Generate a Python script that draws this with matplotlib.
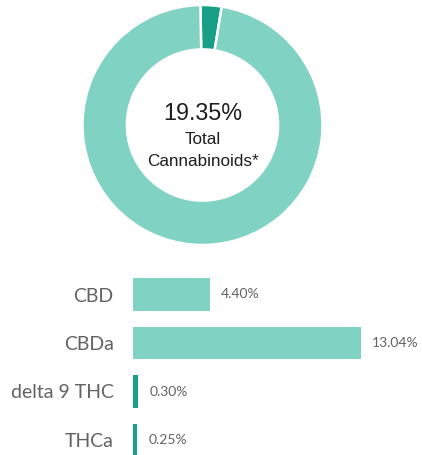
"""Cannabinoid profile - donut of total plus per-compound bars"""

import matplotlib
matplotlib.use("Agg")
import matplotlib.pyplot as plt

LIGHT = '#80d2c2'
DARK = '#18a087'
GRAY = '#626262'

# donut: THC share vs. the rest of the total
donut_labels = ['THC', 'CBD']
donut_values = [0.55, 18.80]
donut_colors = [DARK, LIGHT]
total_text = '19.35%'

# bar section
compounds = ['CBD', 'CBDa', 'delta 9 THC', 'THCa']
percents = [4.40, 13.04, 0.30, 0.25]
bar_colors = [LIGHT, LIGHT, DARK, DARK]

W, H = 422, 455
fig = plt.figure(figsize=(W / 100, H / 100), dpi=100)

# 上半部分：环形图
ax1 = fig.add_axes([(202.5 - 120) / W, 1 - 245 / H, 240 / W, 240 / H])
ax1.pie(donut_values, colors=donut_colors, startangle=91, counterclock=False,
        radius=1.0, wedgeprops=dict(width=0.37, edgecolor='white', linewidth=1.8))
ax1.set_xlim(-1, 1)
ax1.set_ylim(-1, 1)
ax1.axis('off')

ax1.text(0, 0.1, total_text, ha='center', va='center', fontsize=16.8,
         family='Liberation Sans', color='#1e1e1e')
ax1.text(0, -0.12, 'Total', ha='center', va='center', fontsize=12.3,
         family='Liberation Sans', color='#1e1e1e')
ax1.text(0, -0.30, 'Cannabinoids*', ha='center', va='center', fontsize=12.3,
         family='Liberation Sans', color='#1e1e1e')

# 下半部分：横向条形图
px_per_unit = (361 - 133) / 13.04
pitch = 48.5
ax2 = fig.add_axes([133 / W, 0, (W - 133) / W, (H - 270) / H])
ypos = list(range(len(compounds)))
ax2.barh(ypos, percents, height=0.67, color=bar_colors)
ax2.set_xlim(0, (W - 133) / px_per_unit)
ax2.set_ylim((455 - 294.5) / pitch, (270 - 294.5) / pitch)

ax2.set_yticks(ypos)
ax2.set_yticklabels(compounds, fontsize=14, family='Lato', color=GRAY)
ax2.tick_params(axis='y', length=0, pad=14)
ax2.set_xticks([])
for s in ax2.spines.values():
    s.set_visible(False)

for y, v in zip(ypos, percents):
    ax2.annotate(f'{v:.2f}%', xy=(v, y), xytext=(8, 0), textcoords='offset points',
                 ha='left', va='center', fontsize=10, family='Lato', color=GRAY)

plt.savefig('out.png', dpi=100)
plt.close()
